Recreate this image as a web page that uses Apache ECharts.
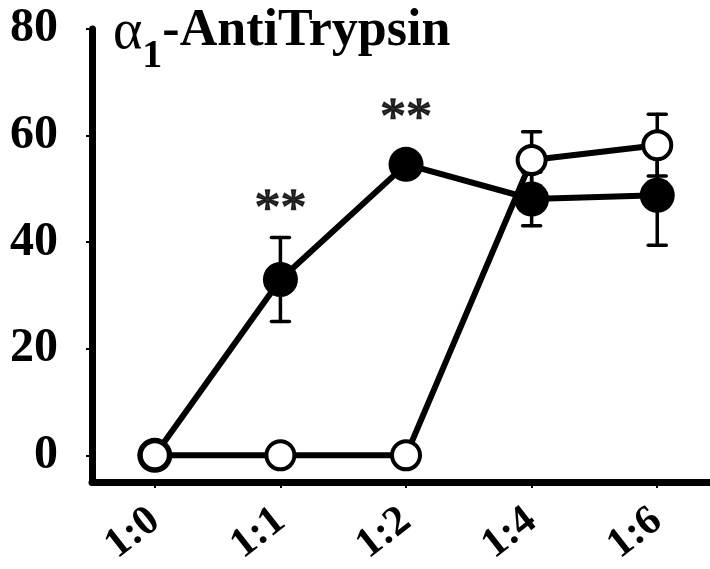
<!DOCTYPE html>
<html>
<head>
<meta charset="utf-8">
<script src="https://cdn.jsdelivr.net/npm/echarts@6/dist/echarts.min.js"></script>
<style>
  html, body { margin: 0; padding: 0; background: #fff; }
  #chart { width: 710px; height: 569px; }
</style>
</head>
<body>
<div id="chart"></div>
<script>
// ratios along the x axis
var categories = ['1:0', '1:1', '1:2', '1:4', '1:6'];
// filled circles
var filledMean = [0, 33, 54.6, 48.1, 48.8];
var filledErr = [0, 7.9, 1.5, 5, 9.4];
// open circles
var openMean = [0, 0, 0, 55.4, 58.2];
var openErr = [0, 0, 0, 5.3, 5.8];
// significance marks over the filled series
var marks = ['', '**', '**', '', ''];
var yTicks = [0, 20, 40, 60, 80];

var serif = 'Liberation Serif';

function pts(arr) {
  return arr.map(function (v, i) { return [i, v]; });
}
function bars(mean, err) {
  var out = [];
  mean.forEach(function (v, i) {
    if (err[i] > 0) out.push([i, v - err[i], v + err[i]]);
  });
  return out;
}
function renderBars(params, api) {
  var x = api.value(0);
  var lo = api.coord([x, api.value(1)]);
  var hi = api.coord([x, api.value(2)]);
  var w = 9;
  var st = { stroke: '#000', lineWidth: 3.5, lineCap: 'round' };
  return {
    type: 'group',
    children: [
      { type: 'line', shape: { x1: lo[0], y1: lo[1], x2: hi[0], y2: hi[1] }, style: st },
      { type: 'line', shape: { x1: lo[0] - w, y1: lo[1], x2: lo[0] + w, y2: lo[1] }, style: st },
      { type: 'line', shape: { x1: hi[0] - w, y1: hi[1], x2: hi[0] + w, y2: hi[1] }, style: st }
    ]
  };
}

// stars sit above the error bar or the marker, whichever is higher
var starData = [];
marks.forEach(function (m, i) {
  if (m) {
    var top = Math.max(filledMean[i] + filledErr[i], filledMean[i] + 3.3);
    starData.push({ value: [i, top], label: { formatter: m } });
  }
});

var chart = echarts.init(document.getElementById('chart'));
var option = {
  animation: false,
  backgroundColor: '#fff',
  title: {
    left: 108,
    top: 0,
    text: '{a|α}{s|1}{b|-AntiTrypsin}',
    textStyle: {
      rich: {
        a: { fontFamily: serif, fontSize: 56, fontWeight: 'normal', color: '#000', verticalAlign: 'bottom', padding: [0, 0, 16, 0] },
        s: { fontFamily: serif, fontSize: 40, fontWeight: 'bold', color: '#000', verticalAlign: 'bottom' },
        b: { fontFamily: serif, fontSize: 52, fontWeight: 'bold', color: '#000', verticalAlign: 'bottom', padding: [0, 0, 19, 0] }
      }
    }
  },
  grid: { left: 92, right: 0, top: 29, bottom: 87 },
  xAxis: {
    type: 'value',
    min: -0.5,
    max: 4.42,
    splitLine: { show: false },
    axisLine: { onZero: false, lineStyle: { color: '#000', width: 7 } },
    axisTick: { show: true, customValues: [0, 1, 2, 3, 4], length: 6, lineStyle: { color: '#000', width: 2 } },
    axisLabel: {
      customValues: [0, 1, 2, 3, 4],
      rotate: 38,
      margin: 34,
      formatter: function (v) { return categories[v]; },
      fontFamily: serif,
      fontSize: 42,
      fontWeight: 'bold',
      color: '#000'
    }
  },
  yAxis: {
    type: 'value',
    min: -5,
    max: 80,
    splitLine: { show: false },
    axisLine: { show: true, onZero: false, lineStyle: { color: '#000', width: 7 } },
    axisTick: { show: true, customValues: yTicks, length: 6, lineStyle: { color: '#000', width: 2 } },
    axisLabel: {
      customValues: yTicks,
      margin: 34,
      fontFamily: serif,
      fontSize: 48,
      fontWeight: 'bold',
      color: '#000'
    }
  },
  series: [
    {
      type: 'custom',
      renderItem: renderBars,
      data: bars(filledMean, filledErr),
      z: 2
    },
    {
      type: 'line',
      data: pts(filledMean),
      symbol: 'circle',
      symbolSize: 35,
      lineStyle: { color: '#000', width: 6 },
      itemStyle: { color: '#000', borderWidth: 0 },
      z: 3
    },
    {
      type: 'custom',
      renderItem: renderBars,
      data: bars(openMean, openErr),
      z: 4
    },
    {
      type: 'line',
      data: pts(openMean),
      symbol: 'circle',
      symbolSize: 28,
      lineStyle: { color: '#000', width: 6 },
      itemStyle: { color: '#fff', borderColor: '#000', borderWidth: 4 },
      z: 5
    },
    {
      type: 'scatter',
      data: starData,
      symbolSize: 1,
      itemStyle: { color: 'rgba(0,0,0,0)' },
      label: {
        show: true,
        position: 'top',
        distance: 0,
        fontFamily: serif,
        fontSize: 52,
        color: '#000',
        textBorderColor: '#000',
        textBorderWidth: 1.5
      },
      z: 6
    }
  ]
};
chart.setOption(option);
</script>
</body>
</html>
